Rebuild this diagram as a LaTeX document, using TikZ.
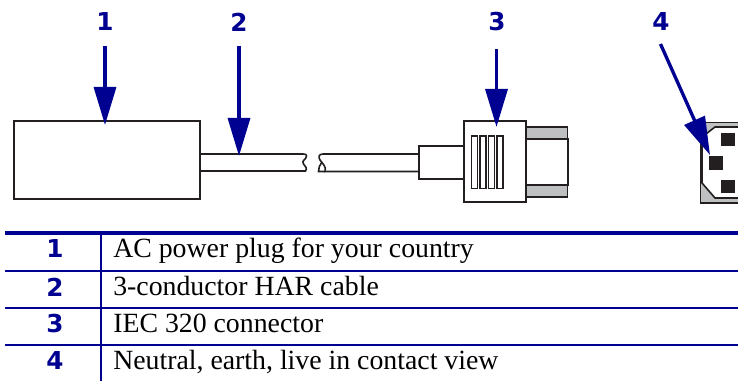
\documentclass[tikz,border=0pt]{standalone}
\usepackage{fontspec}
\setmainfont{Liberation Serif}
\newfontfamily\numfont{DejaVu Sans}
\usetikzlibrary{arrows.meta}
\definecolor{navy}{RGB}{0,0,145}
\definecolor{ink}{RGB}{35,31,32}
\definecolor{plate}{RGB}{190,192,194}
\tikzset{
  callout/.style={line width=2.5pt,navy,-{Triangle[width=16.5pt,length=28.5pt]}},
  num/.style={font=\numfont\bfseries\fontsize{18.5}{18.5}\selectfont,text=navy,inner sep=0pt,anchor=center},
  rowtext/.style={font=\fontsize{20.85}{20.85}\selectfont,text=black,inner sep=0pt,anchor=base west},
  part/.style={draw=ink,line width=1.5pt,line join=miter},
  partbox/.style={part,fill=white,inner sep=0pt,outer sep=0pt,anchor=north west},
  thin part/.style={draw=ink,line width=1.2pt},
  grayp/.style={fill=plate,draw=ink,line width=1.2pt},
  ribbox/.style={draw=ink,line width=1.2pt,minimum width=4.5pt,minimum height=39.3pt,inner sep=0pt,outer sep=0pt,anchor=north west},
  rule/.style={navy,line width=1.3pt},
}
\begin{document}
\begin{tikzpicture}[x=0.75pt,y=-0.75pt]
\useasboundingbox (0,0) rectangle (738,381);
\clip (0,0) rectangle (738,381);
% plug body
\node[partbox,minimum width=139.9pt,minimum height=59pt] (plug) at (13.7,120.7) {};
% cable
\coordinate (c1a) at (200,154);
\coordinate (c1b) at (200,171);
\draw[thin part] (c1a) -- (300,154) .. controls (303,154) and (306.5,153.5) .. (306.5,156) .. controls (306.5,160) and (301,160) .. (303.5,164) .. controls (305.5,167) and (307.5,168) .. (305.5,171) -- (c1b);
\draw[thin part] (418,154) -- (323,154) .. controls (319,154) and (318,157) .. (320,160) .. controls (322,163) and (327,167) .. (325,171.5) -- (418,171.5);
\draw[thin part] (325,171.5) -- (318.5,171.5) .. controls (318,168) and (320,165) .. (322,162);
% strain relief
\node[partbox,minimum width=34.2pt,minimum height=24.7pt] (strain) at (418.5,146) {};
% gray sides
\draw[grayp] (526,127) rectangle (567.5,139);
\draw[grayp] (526,185) rectangle (567.5,197);
\draw[part,fill=white] (526,139) -- (567.5,139) -- (567.5,185) -- (526,185);
% connector body
\draw[part,fill=white] (464,121.5) rectangle (526,202);
\node[ribbox] (r1) at (471.5,136) {};
\node[ribbox] (r2) at (480,136) {};
\node[ribbox] (r3) at (488.5,136) {};
\node[ribbox] (r4) at (497,136) {};
% contact view
\fill[plate] (700,122) rectangle (745,203);
\draw[part,line width=1.2pt] (745,122.5) -- (700.5,122.5) -- (700.5,203) -- (745,203);
\draw[part,fill=white,line width=1.2pt] (745,127) -- (715,127) -- (702,137) -- (702,183) -- (715,198) -- (745,198);
\fill[ink] (720.5,133) rectangle (734.5,146);
\fill[ink] (709,156.5) rectangle (723,169.5);
\fill[ink] (720.5,180) rectangle (734.5,193);
% callout numbers
\node[num] (n1) at (105,22) {1};
\node[num] (n2) at (239,22) {2};
\node[num] (n3) at (497,22) {3};
\node[num] (n4) at (661,22) {4};
% callout arrows
\coordinate (s1) at (105,46); \coordinate (t1) at (105,125);
\coordinate (s2) at (239,46); \coordinate (t2) at (239,156);
\coordinate (s3) at (496.5,49); \coordinate (t3) at (496.5,127);
\coordinate (s4) at (660.5,44); \coordinate (t4) at (710,155);
\draw[callout] (s1) -- (t1);
\draw[callout] (s2) -- (t2);
\draw[callout] (s3) -- (t3);
\draw[callout] (s4) -- (t4);
% table
\draw[navy,line width=3pt] (5,233) -- (738,233);
\draw[rule] (5,271) -- (738,271);
\draw[rule] (5,308) -- (738,308);
\draw[rule] (5,345) -- (738,345);
\draw[navy,line width=1.5pt] (100.5,233) -- (100.5,381);
\node[num] (k1) at (55,249) {1};
\node[num] (k2) at (55,287) {2};
\node[num] (k3) at (55,324) {3};
\node[num] (k4) at (55,361) {4};
\node[rowtext] (d1) at (113,257) {AC power plug for your country};
\node[rowtext] (d2) at (113,295) {3-conductor HAR cable};
\node[rowtext] (d3) at (113,332) {IEC 320 connector};
\node[rowtext] (d4) at (113,369) {Neutral, earth, live in contact view};
\end{tikzpicture}
\end{document}
